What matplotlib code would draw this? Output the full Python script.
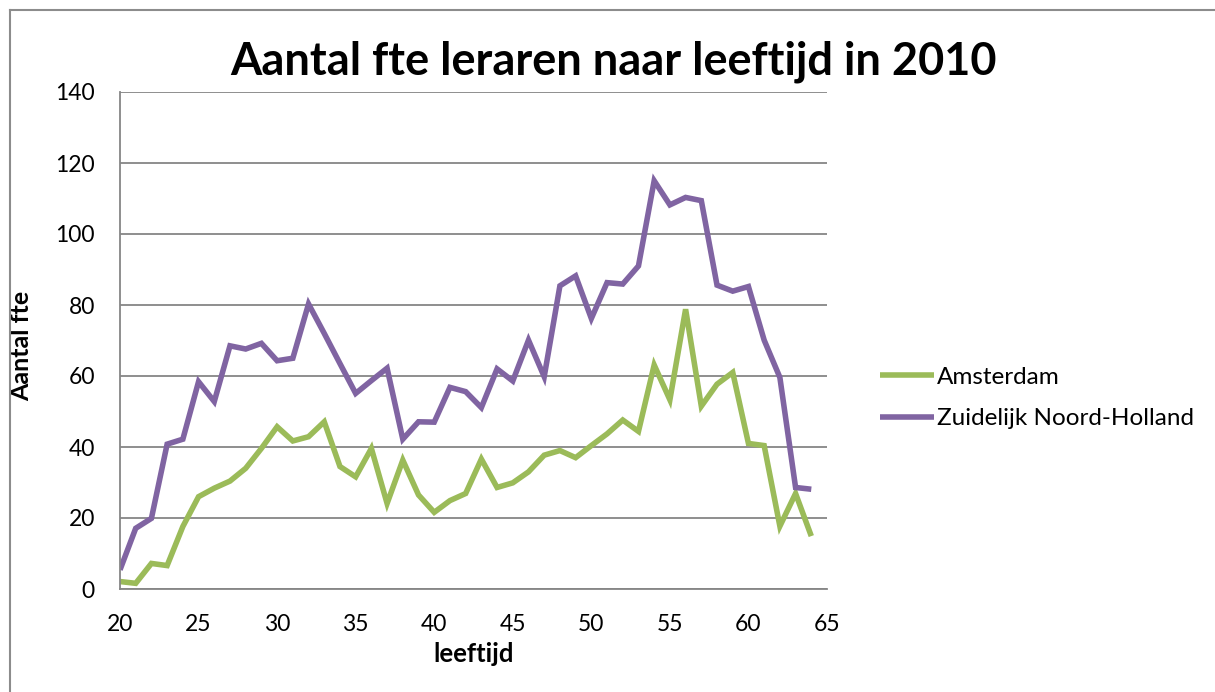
import matplotlib.pyplot as plt
from matplotlib.lines import Line2D

plt.rcParams["font.family"] = ["Lato", "DejaVu Sans"]

AGES = list(range(20, 65))
AMSTERDAM = [
    2.1, 1.6, 7.2, 6.6, 17.6, 26.0, 28.4, 30.4, 34.0, 39.6,
    45.7, 41.7, 42.9, 47.1, 34.5, 31.6, 39.6, 24.1, 36.3, 26.5,
    21.6, 24.9, 26.9, 36.6, 28.6, 29.9, 33.0, 37.7, 39.0, 37.0,
    40.4, 43.7, 47.6, 44.4, 63.1, 53.3, 78.8, 51.5, 57.7, 61.0,
    41.0, 40.4, 17.7, 26.9, 14.9,
]
ZUIDELIJK_NH = [
    5.4, 17.1, 19.9, 40.8, 42.2, 58.4, 52.8, 68.5, 67.6, 69.2,
    64.3, 65.0, 80.3, 72.0, 63.5, 55.1, 58.7, 62.2, 42.2, 47.1,
    47.0, 56.8, 55.6, 51.1, 62.0, 58.6, 70.1, 59.8, 85.4, 88.2,
    76.2, 86.3, 85.9, 91.0, 115.0, 108.2, 110.3, 109.4, 85.6, 83.9,
    85.2, 70.1, 59.6, 28.6, 28.1,
]
SERIES = [("Amsterdam", AMSTERDAM, "#9BBB59"),
          ("Zuidelijk Noord-Holland", ZUIDELIJK_NH, "#8064A2")]

W, H = 1215, 692
GRID = "#868686"


def main():
    fig = plt.figure(figsize=(W / 100, H / 100), dpi=100)
    ax = fig.add_axes([120 / W, 1 - 589 / H, 707 / W, 497 / H])

    for name, vals, color in SERIES:
        ax.plot(AGES, vals, color=color, lw=4.0, label=name,
                solid_joinstyle="miter", solid_capstyle="butt")

    ax.set_xlim(20, 65)
    ax.set_ylim(0, 140)
    ax.set_xticks(range(20, 66, 5))
    ax.set_yticks(range(0, 141, 20))
    ax.yaxis.grid(True, color=GRID, lw=1.3)
    ax.set_axisbelow(True)
    ax.tick_params(length=0, labelsize=16.5, pad=18)
    for s in ("top", "right"):
        ax.spines[s].set_visible(False)
    for s in ("left", "bottom"):
        ax.spines[s].set_color(GRID)
        ax.spines[s].set_linewidth(1.3)

    ax.set_xlabel("leeftijd", fontsize=18.5, fontweight="bold", labelpad=5)
    ax.set_ylabel("Aantal fte", fontsize=18, fontweight="bold")
    ax.yaxis.set_label_coords(33 / W, 0.5, transform=fig.transFigure)

    fig.text(613 / W, 1 - 62 / H, "Aantal fte leraren naar leeftijd in 2010",
             ha="center", va="center", fontsize=32.5, fontweight="bold")

    ax.legend(loc="center left", bbox_to_anchor=(868 / W, 1 - 398 / H),
              bbox_transform=fig.transFigure, frameon=False, fontsize=17.5,
              handlelength=2.2, handletextpad=0.15, labelspacing=0.85,
              borderpad=0)

    # chart area border (only top and left edges visible)
    fig.add_artist(Line2D([10 / W, 1.0], [1 - 10 / H, 1 - 10 / H],
                          transform=fig.transFigure, color="#8c8c8c", lw=1.5))
    fig.add_artist(Line2D([10 / W, 10 / W], [1 - 10 / H, 0.0],
                          transform=fig.transFigure, color="#8c8c8c", lw=1.5))

    fig.savefig("out.png", dpi=100)
    plt.close(fig)


if __name__ == "__main__":
    main()
